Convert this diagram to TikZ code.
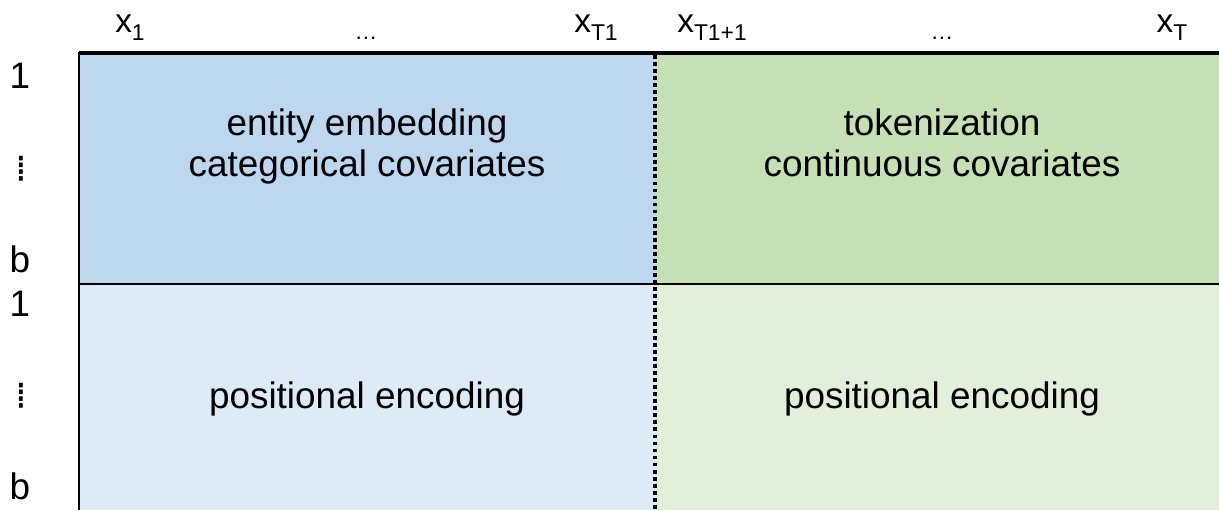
\documentclass[tikz,border=0pt]{standalone}
\usepackage{fontspec}
\setmainfont{Liberation Sans}
\newfontfamily\dotsfont{DejaVu Sans}
\definecolor{catdark}{HTML}{BDD7EE}
\definecolor{catlight}{HTML}{DDEBF7}
\definecolor{condark}{HTML}{C5E0B4}
\definecolor{conlight}{HTML}{E2EFDA}
\newcommand{\sx}[1]{x\raisebox{-0.45ex}{\fontsize{13}{13}\selectfont #1}}
\begin{document}
\begin{tikzpicture}[x=0.02cm,y=-0.02cm,font=\fontsize{21}{23.3}\selectfont,
    lbl/.style={inner sep=0pt,align=center,anchor=base},
    hdr/.style={inner sep=0pt,anchor=base,font=\fontsize{19}{19}\selectfont}]
        \useasboundingbox (0,0) rectangle (1219,510);
        % cells
        \fill[catdark] (79,53) rectangle (655,284);
        \fill[condark] (655,53) rectangle (1219,284);
        \fill[catlight] (79,284) rectangle (655,510);
        \fill[conlight] (655,284) rectangle (1219,510);
        \node[lbl] (cat) at (367,176) {entity embedding\\categorical covariates};
        \node[lbl] (con) at (942,176) {tokenization\\continuous covariates};
        \node[lbl] (pcat) at (367,408) {positional encoding};
        \node[lbl] (pcon) at (942,408) {positional encoding};
        % borders
        \draw[line width=1.8pt] (79,53) -- (1219,53);
        \draw[line width=1.4pt] (79,284) -- (1219,284);
        \draw[line width=1.4pt] (79,52) -- (79,510);
        \draw[line width=1.8pt,dash pattern=on 2.2pt off 1.8pt] (655,55) -- (655,510);
        % column heads
        \node[hdr] (x1) at (130,33) {\sx{1}};
        \node[hdr,font=\fontsize{13}{13}\selectfont] (d1) at (366,40) {\dots};
        \node[hdr] (xt1) at (596,33) {\sx{T1}};
        \node[hdr] (xt2) at (712,33) {\sx{T1+1}};
        \node[hdr,font=\fontsize{13}{13}\selectfont] (d2) at (942,40) {\dots};
        \node[hdr] (xt) at (1172,33) {\sx{T}};
        % row heads
        \foreach \r/\y in {a/0,b/227}{
          \node[lbl] (one\r) at (20,89+\y) {1};
          \node[inner sep=0pt,font=\dotsfont\fontsize{21}{21}\selectfont] (dots\r) at (21,169+\y) {⁞};
          \node[lbl] (bee\r) at (20,272+\y) {b};
        }
    \end{tikzpicture}
\end{document}
